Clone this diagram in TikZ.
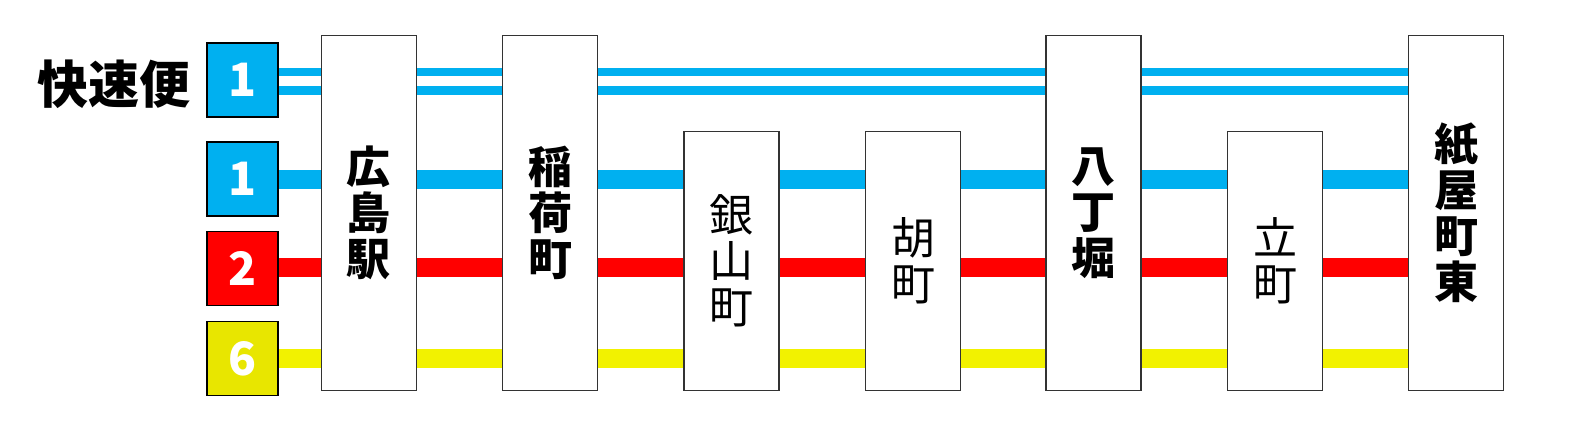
\documentclass[tikz,border=0pt]{standalone}
\usepackage{fontspec}
\usetikzlibrary{backgrounds}
\newfontfamily\jp{Noto Sans CJK JP}
\definecolor{lblue}{HTML}{00B0F0}
\definecolor{lred}{HTML}{FF0000}
\definecolor{lyel}{HTML}{F2F200}
\definecolor{byel}{HTML}{E8E600}
\begin{document}
\begin{tikzpicture}[x=1pt,y=-1pt,
  badge/.style={draw=black,line width=1.2pt,minimum width=71pt,minimum height=74pt,inner sep=0pt,text=white,font=\jp\bfseries\fontsize{46}{46}\selectfont},
  tallbox/.style={draw=black!80,line width=1.2pt,fill=white,minimum width=95pt,minimum height=355pt,inner sep=0pt,align=center,font=\jp\bfseries\fontsize{44}{46}\selectfont},
  shortbox/.style={draw=black!80,line width=1.2pt,fill=white,minimum width=95pt,minimum height=259pt,inner sep=0pt,align=center,font=\jp\fontsize{44}{46}\selectfont},
  exline/.style={draw=lblue,line width=8.5pt},
  thick line/.style={line width=19pt}
]
\useasboundingbox (0,0) rectangle (1573,437);
% badges
\node[badge,fill=lblue] (b0) at (242.5,80) {1};
\node[badge,fill=lblue] (b1) at (242.5,179) {1};
\node[badge,fill=lred]  (b2) at (242.5,268.3) {2};
\node[badge,fill=byel]  (b6) at (242.5,358.3) {6};
\node[anchor=east,font=\jp\bfseries\fontsize{51}{51}\selectfont,inner sep=0pt] (kaisoku) at (191,84) {快速便};
% stations
\node[tallbox] (s1) at (368.8,213) {広\\島\\駅};
\node[tallbox] (s2) at (550,213) {稲\\荷\\町};
\node[shortbox] (s3) at (731.5,261.2) {銀\\山\\町};
\node[shortbox] (s4) at (913,261.2) {胡\\町};
\node[tallbox] (s5) at (1093.5,213) {八\\丁\\堀};
\node[shortbox] (s6) at (1275,261.2) {立\\町};
\node[tallbox] (s7) at (1456.3,213) {紙\\屋\\町\\東};
% lines, behind the stations
\begin{scope}[on background layer]
\draw[exline] (b0.east |- 0,72) -- (s7.west |- 0,72);
\draw[exline] (b0.east |- 0,90.5) -- (s7.west |- 0,90.5);
\draw[thick line,lblue] (b1.east |- 0,179.7) -- (s7.west |- 0,179.7);
\draw[thick line,lred] (b2.east |- 0,267) -- (s7.west |- 0,267);
\draw[thick line,lyel] (b6.east |- 0,358) -- (s7.west |- 0,358);
\end{scope}
\end{tikzpicture}
\end{document}
